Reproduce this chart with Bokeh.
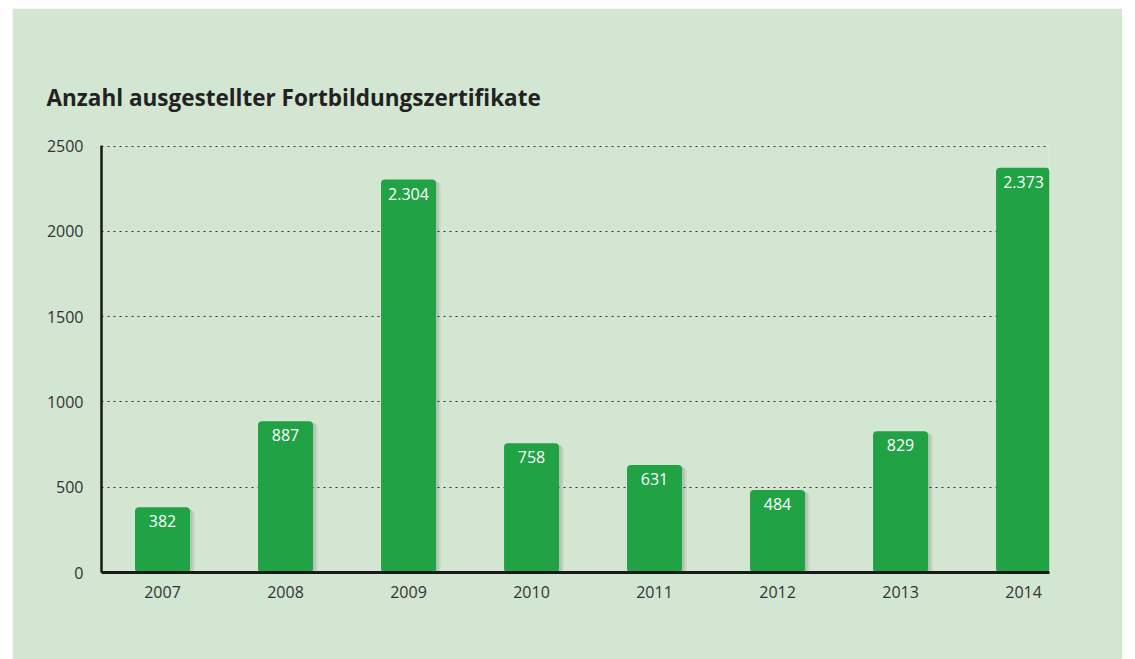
from bokeh.plotting import figure
from bokeh.models import Range1d, FixedTicker, ColumnDataSource, Title
from bokeh.embed import file_html
from bokeh.resources import INLINE
from bokeh.core.properties import value

years = ["2007", "2008", "2009", "2010", "2011", "2012", "2013", "2014"]
counts = [382, 887, 2304, 758, 631, 484, 829, 2373]
labels = ["382", "887", "2.304", "758", "631", "484", "829", "2.373"]
y_ticks = [0, 500, 1000, 1500, 2000, 2500]

BG = "#d2e6d2"
GREEN = "#20a245"
FONT = "Open Sans"

xs = list(range(len(years)))
src = ColumnDataSource(dict(x=xs, top=counts, label=labels))
shadow = ColumnDataSource(dict(x=[v + 0.03 for v in xs], top=[c - 15 for c in counts]))

p = figure(width=1110, height=651, output_backend="svg", toolbar_location=None,
           x_range=Range1d(-0.496, 7.211), y_range=Range1d(0, 2504),
           min_border_left=89, min_border_right=73, min_border_bottom=87, min_border_top=137)
p.margin = (8, 0, 0, 12)
p.background_fill_color = BG
p.border_fill_color = BG
p.outline_line_color = None

t = Title(text="Anzahl ausgestellter Fortbildungszertifikate", text_font=FONT,
          text_font_size="22.5px", text_font_style="bold", text_color="#222222",
          align="left", offset=-55, standoff=65)
p.add_layout(t, "above")

# soft shadow
p.vbar(x="x", top="top", width=0.46, bottom=0, source=shadow, fill_color="#000000",
       fill_alpha=0.07, line_color=None, border_radius=4)
p.vbar(x=[v + 0.02 for v in xs], top=[c - 8 for c in counts], width=0.45, bottom=0,
       fill_color="#000000", fill_alpha=0.08, line_color=None, border_radius=4)
p.vbar(x="x", top="top", width=0.447, bottom=0, source=src, fill_color=GREEN,
       line_color=None, border_radius=4)
p.text(x="x", y="top", text="label", source=src, text_align="center", text_baseline="top",
       y_offset=8, text_color="white", text_font=value(FONT), text_font_size="16px")

p.xgrid.visible = False
p.ygrid.ticker = FixedTicker(ticks=y_ticks)
p.ygrid.grid_line_color = "#333333"
p.ygrid.grid_line_dash = "2 4"
p.ygrid.grid_line_width = 1

p.yaxis.ticker = FixedTicker(ticks=y_ticks)
p.xaxis.ticker = FixedTicker(ticks=xs)
p.xaxis.major_label_overrides = {i: y for i, y in enumerate(years)}
for ax in (p.xaxis, p.yaxis):
    ax.major_tick_line_color = None
    ax.minor_tick_line_color = None
    ax.major_label_text_font = FONT
    ax.major_label_text_font_size = "16px"
    ax.major_label_text_color = "#333333"
    ax.axis_line_color = "#1a1a1a"
p.xaxis.axis_line_width = 3
p.yaxis.axis_line_width = 2.5
p.xaxis.major_label_standoff = 7
p.yaxis.major_label_standoff = 12
p.yaxis.major_label_text_baseline = "alphabetic"

open("out.html", "w").write(file_html(p, INLINE))
